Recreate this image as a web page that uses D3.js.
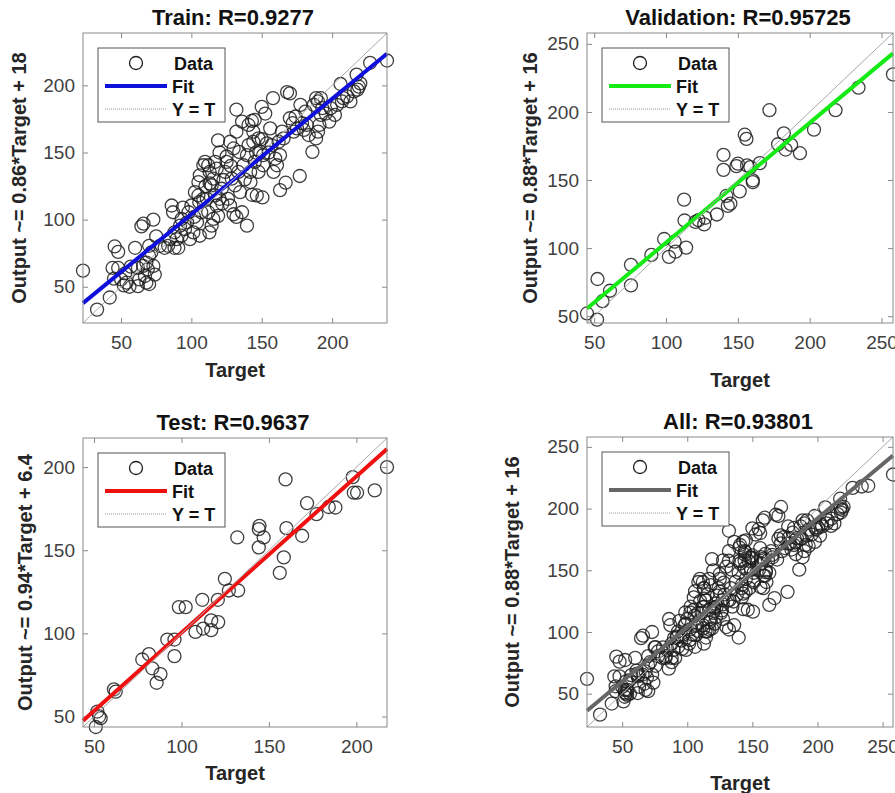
<!DOCTYPE html>
<html>
<head>
<meta charset="utf-8">
<script src="https://cdn.jsdelivr.net/npm/d3@7"></script>
<style>
  body { margin: 0; background: #fff; }
  text { font-family: "Liberation Sans", Arial, sans-serif; }
</style>
</head>
<body>
<script>
// Define width and height of the svg element
var width = 895;
var height = 793;

// Data points, as [target, output]
var trainData = [
  [23,62],[33,33],[42,42],[44,64],[45,56],
  [45.5,80],[48,76],[48,64],[50,55.5],[54,53],[52,51],[57,65],[56,50],[53,60],
  [60,79],[62,64],[63,55.5],[62,50.5],[64.5,95],[66,97],[73,100],[65.7,65.5],[68,68],[69,63],
  [70,73],[71.5,75.5],[67,58],[70,52],[73,65.5],[74,59],[68,53],[75,87.5],[70,80.5],
  [77.6,80.5],[81,79],[83.5,80.5],[86,110.5],[87,105.5],[88,90.5],[89.5,85.5],[90.7,79],
  [92,95.5],[93,100.5],[84.8,85.5],[88,79],[94,109],[95.5,93],[93,88],[97,98],
  [98,105.5],[100,110.5],[101.4,90.5],[104,98],[106,88],[107,105.5],[102.5,120.5],[105,128],
  [106,133],[108.5,140.5],[99,85.5],[108.5,115.5],[105.6,113],[102,102],[105,118],
  [109.7,143],[112,140.5],[113,135.5],[113,127],[114.4,125.5],[115.6,130.5],[116.8,143],[118,138],
  [119,159],[111,115.5],[112,105.5],[114.4,95.5],[112.8,90.5],[115.6,100.5],[118,110.5],[120,115.5],
  [121.6,123],[122.8,129.5],[119,102.8],[116.8,118],[110,125],[120,150],[122,112],
  [124,135.5],[125,143],[127.5,158],[130,153],[132,165.5],[132,182],[128.7,130.5],[131,125.5],
  [133.4,135.5],[134.6,120.5],[126,115.5],[127.5,110.5],[130,104],[132,102],[136,105.5],[139.5,95.5],
  [134,150.5],[137,140.5],[136,173],[125,147],[128,140],[138,130],
  [140.6,170.5],[143,173.5],[145,174.3],[144,165.5],[143,118.5],[146.5,118],[140.6,155.5],[144,158],
  [147.7,160.5],[149,150.5],[151,148],[150,184],[152.5,179],[151,140.5],[147.7,135.5],[145,143],
  [150.5,116.5],[153.7,156.8],[141.8,135.5],[139.5,148],[142,128],[146,150],[150,160],
  [158,190.5],[156,168],[157,155.5],[159.6,145.5],[160.8,140.5],[158.4,135.5],[163,148],[163,122],
  [167,127.5],[165.5,160.5],[168,195],[170,194],[164.4,165.5],[162,158],[155,150],
  [170,175.5],[172,171.8],[174,176.8],[175,168],[177,132.5],[178.6,171.8],[177.5,185.5],[181,180.5],
  [182,170.5],[183.4,163],[172.7,165.5],[180,166.8],
  [186,150.5],[188.6,160.5],[190,165.5],[191,170.5],[187,185.5],[190,188],[192,190.5],[193,183],
  [195.5,179],[198,173],[199,183],[192,178],[188.6,190.5],
  [202,178],[203.6,185.5],[206,201],[207,188],[208,190.5],[210.7,191.8],[213,188],
  [215.5,195.5],[217.4,208],[219,199],[220,201.5],[218,196.8],[227,216.8],[239,218.5]
];

var valData = [
  [45,52],[52,47.5],[52.3,77.3],[55.8,61],[61,68.7],[75.6,87.7],[75.6,72.6],[89.8,95],
  [98.7,106.7],[102,93.6],[106,104.7],[106.6,97.4],[114,100.4],[112.6,135.6],[112.9,120.3],
  [120.5,119.3],[122.6,120.6],[127.3,122.3],[126.6,117.4],[135.4,124.7],[140,168.5],[140,157.5],
  [142,138.3],[143,131],[144.8,132.7],[149,160.2],[150,162],[151.3,141.7],[154.8,183.3],
  [156,180.2],[156.4,160.7],[158.7,159.5],[160.4,149.8],[160.4,148.5],[165.3,162.4],[172,201.3],
  [178,176.3],[182,184.3],[183.2,172.4],[187.1,175.8],[193.2,169.7],[203,187],[218,201.3],
  [234,217.9],[258,227.6]
];

var testData = [
  [51.9,53],[52.9,50],[53.8,49],[51,43.7],[61.4,66.3],[62.4,65],[77.6,84.3],[81.4,87.5],
  [83.3,79],[85.8,70.3],[88,75.5],[91.9,96.3],[96,96.3],[96,86.3],[98.5,115.8],[102.4,115.8],
  [108,100.9],[111.9,120.2],[112.4,102.9],[117,101.9],[117,107.8],[121,106.8],[120.8,120.2],
  [124.8,132.8],[127.1,125.8],[132.4,125.8],[131.9,157.7],[144.2,151.7],[144.2,162.7],
  [144.6,164.7],[147,157.7],[156.2,136.4],[158.5,145.7],[159.5,192.6],[160,163.3],[169,158.7],
  [171.8,178.3],[177.2,171.7],[184.2,176],[188,175.7],[197.9,194],[198.5,184.6],[200.4,184.6],
  [210.5,186],[217.5,200]
];

var allData = trainData.concat(valData, testData);

// Panel texts and fitted lines
var panelData = [trainData, valData, testData, allData];
var panelTitles = ["Train: R=0.9277", "Validation: R=0.95725", "Test: R=0.9637", "All: R=0.93801"];
var yLabels = ["Output ~= 0.86*Target + 18", "Output ~= 0.88*Target + 16",
               "Output ~= 0.94*Target + 6.4", "Output ~= 0.88*Target + 16"];
var fitSlope = [0.86, 0.88, 0.94, 0.88];
var fitIntercept = [18, 16, 6.4, 16];
var tickLabels = [[50, 100, 150, 200], [50, 100, 150, 200, 250],
                  [50, 100, 150, 200], [50, 100, 150, 200, 250]];
var legendLabels = ["Data", "Fit", "Y = T"];

// Layout of each panel (box in pixels, label spots, fit colour)
var layout = [
  {x: 83,  y: 33,  w: 304, h: 290, xLab: 370, yLab: 19,  color: "#1010dd"},
  {x: 587, y: 33,  w: 306, h: 290, xLab: 380, yLab: 530, color: "#14ea14"},
  {x: 83,  y: 438, w: 304, h: 289, xLab: 773, yLab: 25,  color: "#f01010"},
  {x: 587, y: 437, w: 306, h: 290, xLab: 783, yLab: 512, color: "#666666"}
];

var svg = d3.select("body")
            .append("svg")
            .attr("width", width)
            .attr("height", height);

layout.forEach(function(L, i) {
    var data = panelData[i];
    var lo = d3.min(data, function(d) { return Math.min(d[0], d[1]); });
    var hi = d3.max(data, function(d) { return Math.max(d[0], d[1]); });

    var x = d3.scaleLinear().domain([lo, hi]).range([L.x, L.x + L.w]);
    var y = d3.scaleLinear().domain([lo, hi]).range([L.y + L.h, L.y]);

    var g = svg.append("g");

    // white box
    g.append("rect")
     .attr("x", L.x).attr("y", L.y).attr("width", L.w).attr("height", L.h)
     .attr("fill", "#fff");

    // axes with inward ticks on all four sides
    var ticks = tickLabels[i];
    function style(a) {
        a.select(".domain").remove();
        a.selectAll(".tick line").attr("stroke", "#8a8a8a");
        a.selectAll(".tick text").attr("fill", "#404040")
         .style("font-size", "19px");
    }
    g.append("g").attr("transform", "translate(0," + (L.y + L.h) + ")")
     .call(d3.axisBottom(x).tickValues(ticks).tickSize(-5).tickPadding(13).tickFormat(d3.format("d")))
     .call(style);
    g.append("g").attr("transform", "translate(0," + L.y + ")")
     .call(d3.axisTop(x).tickValues(ticks).tickSize(-5).tickFormat(""))
     .call(style);
    g.append("g").attr("transform", "translate(" + L.x + ",0)")
     .call(d3.axisLeft(y).tickValues(ticks).tickSize(-5).tickPadding(8).tickFormat(d3.format("d")))
     .call(style);
    g.append("g").attr("transform", "translate(" + (L.x + L.w) + ",0)")
     .call(d3.axisRight(y).tickValues(ticks).tickSize(-5).tickFormat(""))
     .call(style);

    // data circles
    g.append("g").selectAll("circle")
     .data(data)
     .enter()
     .append("circle")
     .attr("cx", function(d) { return x(d[0]); })
     .attr("cy", function(d) { return y(d[1]); })
     .attr("r", 6.5)
     .attr("fill", "none")
     .attr("stroke", "#1e1e1e")
     .attr("stroke-opacity", 0.85)
     .attr("stroke-width", 1.3);

    // fit line
    var line = d3.line().x(function(d) { return x(d); })
                        .y(function(d) { return y(fitSlope[i] * d + fitIntercept[i]); });
    g.append("path").datum([lo, hi]).attr("d", line)
     .attr("stroke", L.color).attr("stroke-width", 4).attr("fill", "none");

    // Y = T line
    g.append("path").datum([lo, hi])
     .attr("d", d3.line().x(function(d) { return x(d); }).y(function(d) { return y(d); }))
     .attr("stroke", "#a8a8a8").attr("stroke-width", 1).attr("fill", "none");

    // box outline
    g.append("rect")
     .attr("x", L.x).attr("y", L.y).attr("width", L.w).attr("height", L.h)
     .attr("fill", "none").attr("stroke", "#8a8a8a").attr("stroke-width", 1);

    // title
    g.append("text")
     .attr("x", L.x + L.w / 2 - 2).attr("y", L.y - 8)
     .attr("text-anchor", "middle")
     .style("font-size", "22px").style("font-weight", "bold").attr("fill", "#111")
     .text(panelTitles[i]);

    // axis labels
    g.append("text")
     .attr("x", L.x + L.w / 2).attr("y", L.xLab + 7)
     .attr("text-anchor", "middle")
     .style("font-size", "20px").style("font-weight", "bold").attr("fill", "#262626")
     .text("Target");
    g.append("text")
     .attr("transform", "translate(" + (L.yLab + 7) + "," + (L.y + L.h / 2) + ") rotate(-90)")
     .attr("text-anchor", "middle")
     .style("font-size", "20px").style("font-weight", "bold").attr("fill", "#262626")
     .text(yLabels[i]);

    // legend
    var lx = L.x + 15, ly = L.y + 15;
    var lg = g.append("g");
    lg.append("rect").attr("x", lx).attr("y", ly).attr("width", 127).attr("height", 74)
      .attr("fill", "#fff").attr("stroke", "#555").attr("stroke-width", 1);
    lg.append("circle").attr("cx", lx + 38).attr("cy", ly + 15).attr("r", 6.5)
      .attr("fill", "none").attr("stroke", "#1e1e1e").attr("stroke-width", 1.3);
    lg.append("line").attr("x1", lx + 7).attr("x2", lx + 69).attr("y1", ly + 38).attr("y2", ly + 38)
      .attr("stroke", L.color).attr("stroke-width", 4);
    lg.append("line").attr("x1", lx + 7).attr("x2", lx + 69).attr("y1", ly + 61).attr("y2", ly + 61)
      .attr("stroke", "#999").attr("stroke-width", 1).attr("stroke-dasharray", "1,1");
    lg.selectAll("text.leg")
      .data(legendLabels)
      .enter()
      .append("text")
      .attr("x", function(d, k) { return k === 0 ? lx + 76 : lx + 74; })
      .attr("y", function(d, k) { return ly + 15 + 23 * k + 6.5; })
      .style("font-size", "18px").style("font-weight", "bold").attr("fill", "#111")
      .text(function(d) { return d; });
});
</script>
</body>
</html>
